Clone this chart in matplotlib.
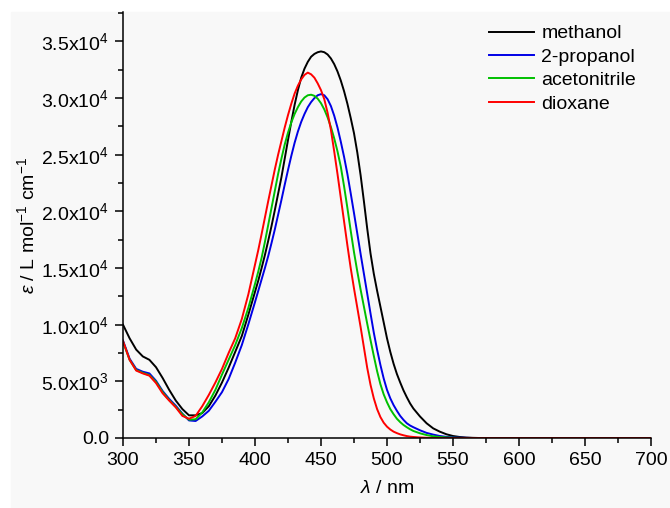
import matplotlib
matplotlib.use('Agg')
import numpy as np
import matplotlib.pyplot as plt
from matplotlib.patches import Rectangle
from matplotlib.ticker import MultipleLocator, FuncFormatter

# longitud de onda (nm): paso 5 fuera de la banda, 2.5 en la banda
wavelength = list(range(300, 400, 5)) + list(np.arange(400, 520.1, 2.5)) \
  + list(range(525, 585, 5)) + [600, 650, 700]

# coeficiente de extincion (L mol-1 cm-1)
methanol = [10000, 8800, 7800, 7200, 6900, 6250, 5300, 4250, 3300, 2550,
            2000, 2000, 2200, 2800, 3750, 4900, 6200, 7600, 9000, 10900,
            12900, 13900, 15000, 16150, 17400, 18700, 20100, 21550, 23000, 24650,
            26300, 27900, 29400, 30700, 31800, 32600, 33200, 33650, 33900, 34050,
            34120, 34050, 33850, 33500, 33000, 32350, 31550, 30600, 29500, 28250,
            26900, 25200, 23200, 20900, 18500, 16300, 14500, 13000, 11600, 10200,
            8800, 7600, 6550, 5650, 4900, 4200, 3600, 3050, 2600,
            1900, 1300, 850, 560, 330, 175, 90, 40, 15, 0, 0, 0,
            0, 0, 0]
propanol = [8600, 7000, 6100, 5850, 5700, 5050, 4150, 3450, 2850, 2150,
            1550, 1500, 1900, 2400, 3200, 4050, 5200, 6650, 8200, 10050,
            12000, 13000, 14000, 15000, 16050, 17200, 18400, 19700, 21000, 22350,
            23650, 24900, 26050, 27050, 27900, 28600, 29200, 29650, 30000, 30250,
            30350, 30250, 29900, 29300, 28450, 27400, 26150, 24800, 23300, 21600,
            19850, 18050, 16250, 14500, 12750, 11000, 9300, 7800, 6450, 5250,
            4250, 3500, 2900, 2400, 1950, 1600, 1300, 1100, 950,
            680, 450, 300, 175, 100, 55, 30, 15, 0, 0, 0, 0,
            0, 0, 0]
acetonitrile = [8500, 6900, 6000, 5750, 5550, 4950, 4050, 3350, 2750, 2100,
                1620, 1650, 2250, 3150, 4250, 5600, 6900, 8200, 9700, 11500,
                13600, 14700, 15900, 17300, 18800, 20300, 21800, 23300, 24650, 25900,
                26950, 27850, 28600, 29200, 29700, 30050, 30250, 30300, 30200, 29950,
                29550, 29000, 28300, 27450, 26450, 25300, 23950, 22200, 20300, 18300,
                16400, 14700, 13100, 11600, 10100, 8650, 7250, 5900, 4750, 3850,
                3150, 2550, 2100, 1700, 1400, 1150, 950, 770, 620,
                415, 260, 150, 90, 50, 25, 10, 0, 0, 0, 0, 0,
                0, 0, 0]
dioxane = [8550, 6900, 5950, 5700, 5500, 4850, 3950, 3300, 2700, 1950,
           1700, 1950, 2800, 3800, 4900, 6100, 7500, 8800, 10500, 12700,
           15300, 16600, 18000, 19450, 20900, 22300, 23700, 25000, 26200, 27400,
           28500, 29500, 30400, 31100, 31650, 32050, 32250, 32100, 31800, 31300,
           30700, 29900, 28700, 27200, 25300, 23300, 21200, 19100, 17000, 15000,
           13200, 11500, 9800, 8000, 6200, 4700, 3500, 2550, 1850, 1350,
           1000, 750, 560, 430, 320, 240, 170, 120, 90,
           45, 20, 0, 0, 0, 0, 0, 0, 0, 0, 0, 0,
           0, 0, 0]

solvents = ['methanol', '2-propanol', 'acetonitrile', 'dioxane']
colors = ['#000000', '#0000e6', '#00c000', '#ff0000']

plt.rcParams['font.family'] = ['Liberation Sans', 'DejaVu Sans']
plt.rcParams['font.size'] = 14
plt.rcParams['mathtext.fontset'] = 'custom'
plt.rcParams['mathtext.rm'] = 'Liberation Sans'
plt.rcParams['mathtext.it'] = 'Liberation Sans:italic'

fig = plt.figure(figsize=(6.7, 5.08), dpi=100)
fig.patches.append(Rectangle((11 / 670, 0), 1, (508 - 12) / 508,
                             transform=fig.transFigure, color='#f8f8f8', zorder=-10))
ax = fig.add_axes([123 / 670, 70 / 508, 528 / 670, 426 / 508])
ax.set_facecolor('none')

for serie, nombre, c in zip([methanol, propanol, acetonitrile, dioxane], solvents, colors):
  ax.plot(wavelength, serie, color=c, lw=1.4, label=nombre)

ax.set_xlim(300, 700)
ax.set_ylim(0, 37600)
ax.xaxis.set_major_locator(MultipleLocator(50))
ax.xaxis.set_minor_locator(MultipleLocator(25))
ax.yaxis.set_major_locator(MultipleLocator(5000))
ax.yaxis.set_minor_locator(MultipleLocator(2500))

def fmt(v, pos):
  if v == 0:
    return '0.0'
  e = 0
  m = v
  while m >= 10:
    m /= 10
    e += 1
  return '%.1fx10$^{%d}$' % (m, e)

ax.yaxis.set_major_formatter(FuncFormatter(fmt))

for s in ['top', 'right']:
  ax.spines[s].set_visible(False)
for s in ['left', 'bottom']:
  ax.spines[s].set_linewidth(1.1)
ax.tick_params(which='major', direction='out', length=6, width=1.1, pad=4)
ax.tick_params(which='minor', direction='out', length=3.5, width=1.1)

ax.set_xlabel(r'$\lambda$ / nm', labelpad=8)
ax.set_ylabel(r'$\varepsilon$ / L mol$^{-1}$ cm$^{-1}$', labelpad=2)

ax.legend(loc='upper left', bbox_to_anchor=(0.693, 0.97), frameon=False,
          handlelength=2.3, handletextpad=0.4, labelspacing=0.3,
          borderpad=0, borderaxespad=0)

plt.savefig('out.png', dpi=100)
